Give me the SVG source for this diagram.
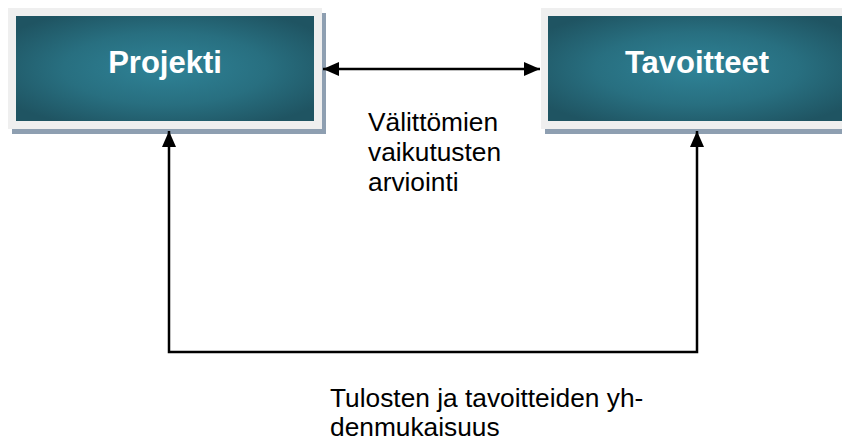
<svg xmlns="http://www.w3.org/2000/svg" width="842" height="442" viewBox="0 0 842 442">
  <defs>
    <radialGradient id="teal" cx="0.5" cy="0.5" r="0.62">
      <stop offset="0" stop-color="#2f8397"/>
      <stop offset="0.55" stop-color="#286f80"/>
      <stop offset="1" stop-color="#1f5462"/>
    </radialGradient>
    <marker id="ah" viewBox="0 0 16 14" refX="16" refY="7" markerWidth="16" markerHeight="14" markerUnits="userSpaceOnUse" orient="auto-start-reverse">
      <path d="M0,0 L16,7 L0,14 Z" fill="#000"/>
    </marker>
  </defs>
  <style>
    .shadow { fill: #8e9fb1; }
    .frame { fill: #efefef; }
    .inner { fill: url(#teal); }
    .title { font-family: "Liberation Sans", Arial, sans-serif; font-weight: bold; font-size: 31px; fill: #ffffff; text-anchor: middle; }
    .label { font-family: "Liberation Sans", Arial, sans-serif; font-size: 26.3px; fill: #000000; }
    .conn { fill: none; stroke: #000; stroke-width: 2.5; }
  </style>
  <rect width="842" height="442" fill="#ffffff"/>
  <g id="projekti">
    <rect class="shadow" x="12" y="13" width="314" height="121"/>
    <rect class="frame" x="8" y="8" width="314" height="121"/>
    <rect class="inner" x="16" y="16" width="298" height="105"/>
    <text class="title" x="165" y="73">Projekti</text>
  </g>
  <g id="tavoitteet">
    <rect class="shadow" x="545" y="13" width="314" height="121"/>
    <rect class="frame" x="541" y="8" width="314" height="121"/>
    <rect class="inner" x="548" y="16" width="298" height="105"/>
    <text class="title" x="697" y="73">Tavoitteet</text>
  </g>
  <g id="connectors">
    <line class="conn" x1="323" y1="69" x2="540" y2="69" marker-start="url(#ah)" marker-end="url(#ah)"/>
    <polyline class="conn" points="169,131 169,352 697,352 697,131" marker-start="url(#ah)" marker-end="url(#ah)"/>
  </g>
  <g id="labels">
    <text class="label" x="368" y="131">Välittömien</text>
    <text class="label" x="368" y="161">vaikutusten</text>
    <text class="label" x="368" y="191">arviointi</text>
    <text class="label" x="330" y="407">Tulosten ja tavoitteiden yh-</text>
    <text class="label" x="330" y="436">denmukaisuus</text>
  </g>
</svg>
